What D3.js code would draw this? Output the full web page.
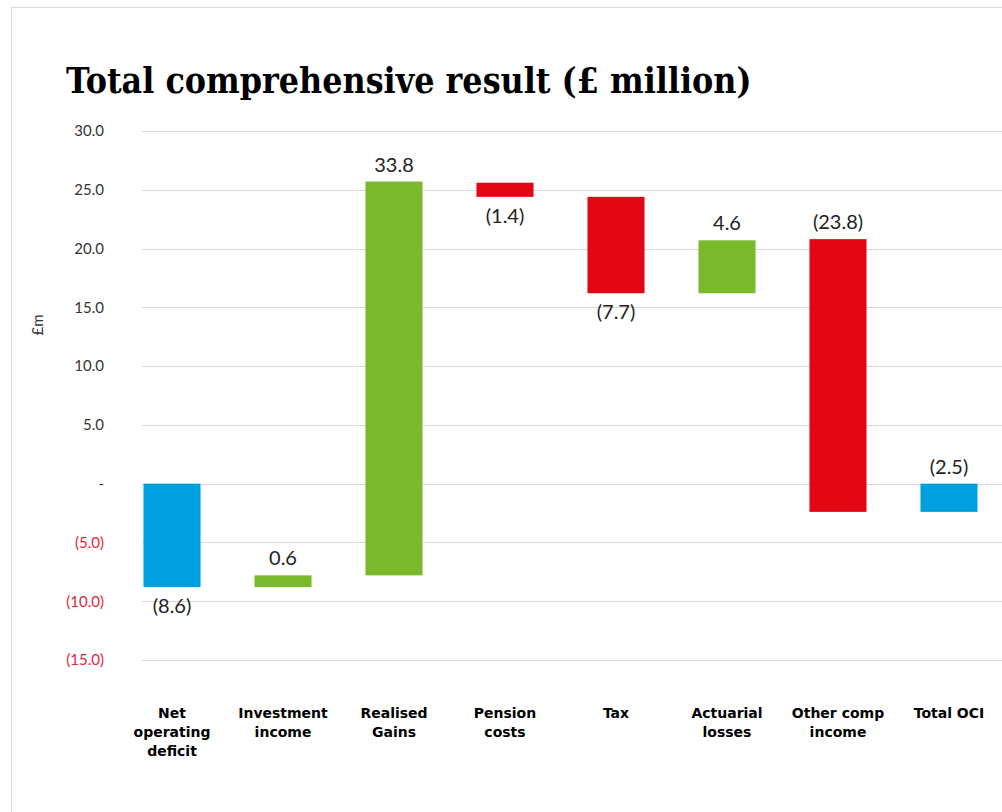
<!DOCTYPE html>
<html>
<head>
<meta charset="utf-8">
<script src="https://cdn.jsdelivr.net/npm/d3@7"></script>
<style>
  html, body { margin: 0; padding: 0; background: #fff; }
  svg { display: block; }
</style>
</head>
<body>
<svg id="chart" width="1002" height="812"></svg>
<script>
// ---- data ----
const categories = ["Net operating deficit", "Investment income", "Realised Gains", "Pension costs", "Tax", "Actuarial losses", "Other comp income", "Total OCI"];
const categoryLines = [["Net", "operating", "deficit"], ["Investment", "income"], ["Realised", "Gains"], ["Pension", "costs"], ["Tax"], ["Actuarial", "losses"], ["Other comp", "income"], ["Total OCI"]];
const barStart = [0, -8.8, -7.8, 25.6, 24.4, 16.2, 20.8, 0];
const barEnd = [-8.8, -7.8, 25.7, 24.4, 16.2, 20.7, -2.4, -2.4];
const valueLabels = ["(8.6)", "0.6", "33.8", "(1.4)", "(7.7)", "4.6", "(23.8)", "(2.5)"];
const barTypes = ["total", "increase", "increase", "decrease", "decrease", "increase", "decrease", "total"];
const labelPlacement = ["below", "above", "above", "below", "below", "above", "above", "above"];
const yTicks = [30, 25, 20, 15, 10, 5, 0, -5, -10, -15];
const yTickLabels = ["30.0", "25.0", "20.0", "15.0", "10.0", "5.0", "-", "(5.0)", "(10.0)", "(15.0)"];

// ---- styles ----
const colors = { total: "#009fe0", increase: "#7ab82c", decrease: "#e30613" };
const svg = d3.select("#chart");

// card frame
svg.append("rect").attr("x", 11.5).attr("y", 7.5).attr("width", 1100).attr("height", 1000)
  .attr("fill", "#fff").attr("stroke", "#d9d9d9").attr("stroke-width", 1);

// title
const title = svg.append("text").attr("x", 66).attr("y", 93)
  .attr("font-family", "'DejaVu Serif', serif")
  .style("font-stretch", "condensed")
  .attr("font-weight", "bold").attr("font-size", 34).attr("fill", "#000")
  .text("Total comprehensive result (£ million)");
const tw = title.node().getComputedTextLength();
title.attr("font-size", 34 * 686 / tw);

// scales
const y = d3.scaleLinear().domain([-15, 30]).range([660, 131]);
const x = d3.scaleBand().domain(categories).range([116.5, 1004.5]).paddingInner(0.486).paddingOuter(0.243);

// gridlines
svg.append("g").selectAll("line").data(yTicks).join("line")
  .attr("x1", 142).attr("x2", 1002)
  .attr("y1", d => Math.round(y(d)) + 0.5).attr("y2", d => Math.round(y(d)) + 0.5)
  .attr("stroke", "#d9d9d9").attr("stroke-width", 1.2);

// y tick labels
const yAxis = d3.axisLeft(y).tickValues(yTicks).tickSize(0).tickPadding(0)
  .tickFormat((d, i) => yTickLabels[i]);
const yg = svg.append("g").attr("transform", "translate(104,0)").call(yAxis);
yg.select(".domain").remove();
yg.selectAll("text")
  .attr("font-family", "Lato, 'Noto Sans', sans-serif").attr("font-size", 15)
  .attr("fill", d => d < 0 ? "#e5243b" : "#333");

// y axis title
svg.append("text").attr("transform", "translate(43,325) rotate(-90)")
  .attr("text-anchor", "middle").attr("font-family", "Lato, 'Noto Sans', sans-serif")
  .attr("font-size", 15).attr("fill", "#333").text("£m");

// bars
const idx = d3.range(categories.length);
svg.append("g").selectAll("rect").data(idx).join("rect")
  .attr("x", i => x(categories[i]))
  .attr("width", x.bandwidth())
  .attr("y", i => y(Math.max(barStart[i], barEnd[i])))
  .attr("height", i => Math.abs(y(barStart[i]) - y(barEnd[i])))
  .attr("fill", i => colors[barTypes[i]]);

// value labels
svg.append("g").selectAll("text").data(idx).join("text")
  .attr("x", i => x(categories[i]) + x.bandwidth() / 2)
  .attr("y", i => labelPlacement[i] === "above"
      ? y(Math.max(barStart[i], barEnd[i])) - 10
      : y(Math.min(barStart[i], barEnd[i])) + 26)
  .attr("text-anchor", "middle")
  .attr("font-family", "Lato, 'Noto Sans', sans-serif").attr("font-size", 20)
  .attr("fill", "#222")
  .text(i => valueLabels[i]);

// x category labels
const xg = svg.append("g");
idx.forEach(i => {
  const t = xg.append("text")
    .attr("x", x(categories[i]) + x.bandwidth() / 2).attr("y", 718)
    .attr("text-anchor", "middle")
    .attr("font-family", "'DejaVu Sans', sans-serif").attr("font-weight", "bold")
    .attr("font-size", 14).attr("fill", "#000");
  categoryLines[i].forEach((ln, j) => {
    t.append("tspan").attr("x", x(categories[i]) + x.bandwidth() / 2)
      .attr("dy", j === 0 ? 0 : 19).text(ln);
  });
});
</script>
</body>
</html>
